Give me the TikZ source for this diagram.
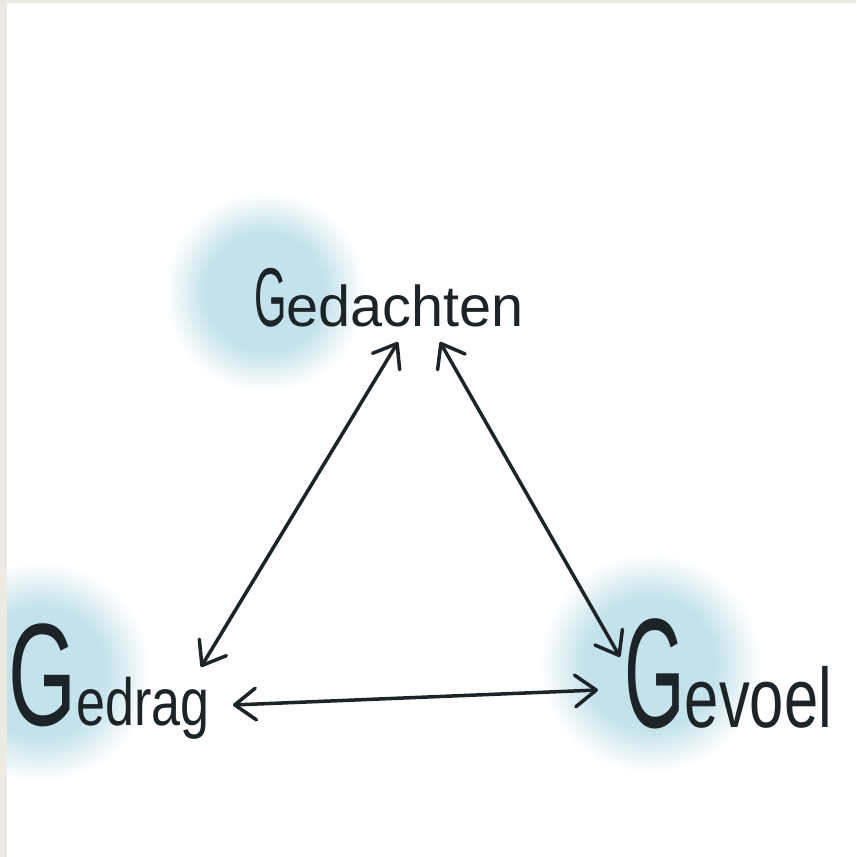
\documentclass[tikz,border=0pt]{standalone}
\usepackage{fontspec}
\setmainfont{Liberation Sans}
\usepackage{graphicx}
\usetikzlibrary{arrows.meta}

\definecolor{paper}{RGB}{237,234,226}
\definecolor{blobblue}{RGB}{196,226,235}
\definecolor{ink}{RGB}{28,36,40}

\pgfdeclareradialshading{blobfade}{\pgfpoint{0bp}{0bp}}{%
  color(0bp)=(blobblue); color(15bp)=(blobblue); color(25bp)=(white); color(50bp)=(white)}

% narrow hand-lettered look
\newcommand{\squeeze}[3]{\scalebox{#1}[1]{\fontsize{#2}{#2}\selectfont #3}}

\begin{document}
\begin{tikzpicture}[
    x=0.02cm, y=-0.02cm,
    word/.style={anchor=base west, inner sep=0pt, text=ink},
    link/.style={{Straight Barb[length=12pt, width=18pt, round]}-{Straight Barb[length=12pt, width=18pt, round]},
                 line width=2pt, draw=ink, line cap=round},
    blob/.style={shading=blobfade},
]

% frame
\fill[paper] (0,0) rectangle (856,857);
\fill[white] (7,3) rectangle (856,857);

% soft blue spots
\begin{scope}
    \clip (7,3) rectangle (856,857);
    \shade[blob] (265,292) circle[radius=100];
    \shade[blob] (40,672) circle[radius=110];
    \shade[blob] (650,663) circle[radius=110];
\end{scope}

% words
\node[word] (gedachten) at (254,327) {\squeeze{0.5}{47.5pt}{G}\squeeze{1}{32.8pt}{edachten}};
\node[word] (gedrag) at (8,725) {\squeeze{0.6}{83pt}{G}\squeeze{0.78}{38pt}{edrag}};
\node[word] (gevoel) at (624,727) {\squeeze{0.5}{88.7pt}{G}\squeeze{0.73}{48pt}{evoel}};

% arrow ends
\coordinate (gedachten-l) at (398,342);
\coordinate (gedachten-r) at (440,342);
\coordinate (gedrag-t) at (201,667);
\coordinate (gedrag-r) at (233,705);
\coordinate (gevoel-t) at (620,657);
\coordinate (gevoel-l) at (598,690);

\draw[link] (gedachten-l) -- (gedrag-t);
\draw[link] (gedachten-r) -- (gevoel-t);
\draw[link] (gedrag-r) -- (gevoel-l);

\end{tikzpicture}
\end{document}
